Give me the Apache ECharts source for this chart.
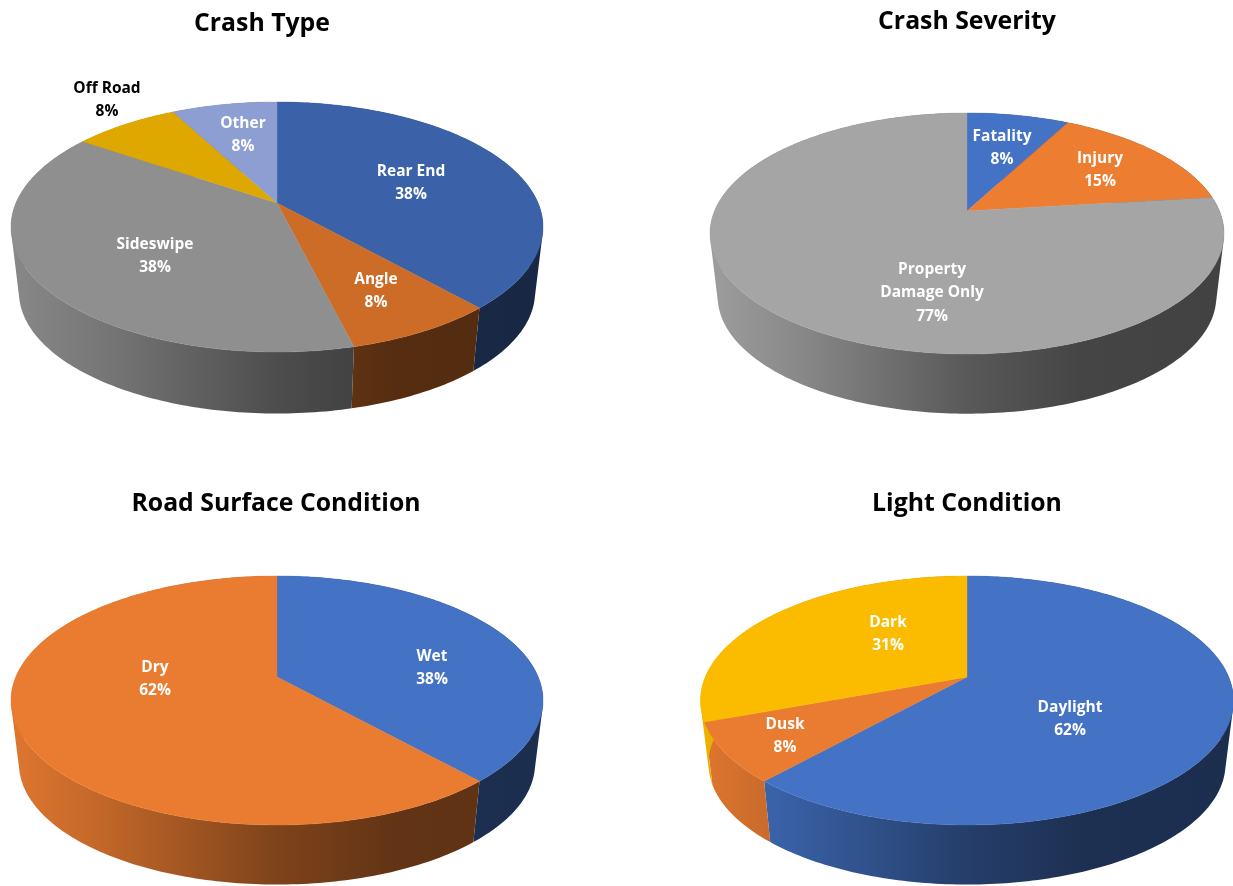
<!DOCTYPE html>
<html>
<head>
<meta charset="utf-8">
<style>html,body{margin:0;padding:0;background:#fff}#c{width:1233px;height:886px}</style>
<script src="https://cdn.jsdelivr.net/npm/echarts@6/dist/echarts.min.js"></script>
</head>
<body>
<div id="c"></div>
<script>
// ---- data (share of crashes, %) ----
const crashTypeNames = ['Rear End', 'Angle', 'Sideswipe', 'Off Road', 'Other'];
const crashTypeValues = [38.4, 7.7, 38.4, 7.7, 7.7];
const severityNames = ['Fatality', 'Injury', 'Property\nDamage Only'];
const severityValues = [7.7, 15.4, 76.9];
const surfaceNames = ['Wet', 'Dry'];
const surfaceValues = [38.4, 61.6];
const lightNames = ['Daylight', 'Dusk', 'Dark'];
const lightValues = [61.6, 7.7, 30.7];

// ---- layout and style ----
const FONT = '"Open Sans", "Noto Sans", sans-serif';
const pies = [
  { title: 'Crash Type', titleX: 262, titleY: 11, names: crashTypeNames, values: crashTypeValues,
    colors: ['#3b62a9', '#cd6c27', '#8f8f8f', '#dea800', '#8d9fd2'],
    cx: 277, cy: 203, rx: 266, up: 101, down: 149, depth: 66,
    labels: [[134, -21], [99, 87], [-122, 52], [-170, -104], [-34, -69]],
    labelColors: ['#fff', '#fff', '#fff', '#000', '#fff'] },
  { title: 'Crash Severity', titleX: 967, titleY: 9, names: severityNames, values: severityValues,
    colors: ['#4472c4', '#ed7d31', '#a5a5a5'],
    cx: 967, cy: 211, rx: 257, up: 98, down: 143, depth: 64,
    labels: [[35, -64], [133, -42], [-35, 81]],
    labelColors: ['#fff', '#fff', '#fff'] },
  { title: 'Road Surface Condition', titleX: 276, titleY: 491, names: surfaceNames, values: surfaceValues,
    colors: ['#4472c4', '#ea7c31'],
    cx: 277, cy: 677, rx: 266, up: 101, down: 148, depth: 64,
    labels: [[155, -10], [-122, 1]],
    labelColors: ['#fff', '#fff'] },
  { title: 'Light Condition', titleX: 967, titleY: 491, names: lightNames, values: lightValues,
    colors: ['#4472c4', '#ea7c31', '#fbbc00'],
    cx: 967, cy: 677, rx: 266.5, up: 101, down: 148, depth: 64,
    labels: [[103, 41], [-182, 58], [-79, -44]],
    labelColors: ['#fff', '#fff', '#fff'] }
];
const SIDE_SCALE = 0.97;
const SIDE_STOPS = [[0, 0.95], [0.17, 0.83], [0.5, 0.54], [0.72, 0.42], [1, 0.4]];

function shade(hex, f) {
  const n = parseInt(hex.slice(1), 16);
  const c = s => Math.round(((n >> s) & 255) * f);
  return 'rgb(' + c(16) + ',' + c(8) + ',' + c(0) + ')';
}
function projector(p) {
  const k = (p.down - p.up) / (p.down + p.up);
  const A = p.up * (1 + k);
  const B = p.rx * Math.sqrt(1 - k * k);
  return function (theta, s, dy) {
    const u = Math.sin(theta), v = -Math.cos(theta), w = 1 - k * v;
    return [p.cx + s * B * u / w, p.cy + dy + s * A * v / w];
  };
}
function slicePoints(p, i, s, dy) {
  const proj = projector(p);
  const sum = p.values.reduce((a, b) => a + b, 0);
  let acc = 0;
  for (let j = 0; j < i; j++) acc += p.values[j];
  const a0 = acc / sum * 2 * Math.PI, a1 = (acc + p.values[i]) / sum * 2 * Math.PI;
  const n = Math.max(2, Math.ceil((a1 - a0) / (Math.PI / 180)));
  const pts = [];
  for (let t = 0; t <= n; t++) pts.push(proj(a0 + (a1 - a0) * t / n, s, dy));
  return pts;
}
// one path made of same-winding quads, so the strip has no seams
function sweptPath(upper, lower) {
  let d = '';
  for (let t = 0; t + 1 < upper.length; t++) {
    let q = [upper[t], upper[t + 1], lower[t + 1], lower[t]];
    let area = 0;
    for (let m = 0; m < 4; m++) {
      const a = q[m], b = q[(m + 1) % 4];
      area += a[0] * b[1] - b[0] * a[1];
    }
    if (area < 0) q = q.reverse();
    d += 'M' + q.map(c => c[0].toFixed(2) + ' ' + c[1].toFixed(2)).join('L') + 'Z';
  }
  return d;
}

const series = [];
pies.forEach(function (p) {
  const data = p.values.map((v, i) => ({ name: p.names[i], value: v }));
  const sum = p.values.reduce((a, b) => a + b, 0);
  // rim (lower layer)
  series.push({
    type: 'custom', coordinateSystem: 'none', z: 1, silent: true, animation: false, data: data,
    renderItem: function (params) {
      const i = params.dataIndex;
      const upper = slicePoints(p, i, 1, 0);
      const lower = slicePoints(p, i, SIDE_SCALE, p.depth);
      const fill = {
        type: 'linear', global: true, x: p.cx - p.rx, y: 0, x2: p.cx + p.rx, y2: 0,
        colorStops: SIDE_STOPS.map(st => ({ offset: st[0], color: shade(p.colors[i], st[1]) }))
      };
      return { type: 'path', shape: { pathData: sweptPath(upper, lower) },
        style: { fill: fill, stroke: null } };
    }
  });
  // top face
  series.push({
    type: 'custom', coordinateSystem: 'none', z: 2, silent: true, animation: false, data: data,
    renderItem: function (params) {
      const i = params.dataIndex;
      const pts = [[p.cx, p.cy]].concat(slicePoints(p, i, 1, 0));
      return { type: 'polygon', shape: { points: pts },
        style: { fill: p.colors[i], stroke: p.colors[i], lineWidth: 0.4 } };
    }
  });
  // labels
  series.push({
    type: 'custom', coordinateSystem: 'none', z: 3, silent: true, animation: false, data: data,
    renderItem: function (params, api) {
      const i = params.dataIndex;
      const pct = Math.round(api.value(0) / sum * 100);
      return { type: 'text',
        x: p.cx + p.labels[i][0], y: p.cy + p.labels[i][1] + 1,
        style: { text: p.names[i] + '\n' + pct + '%', fill: p.labelColors[i],
          font: '700 15.5px ' + FONT, lineHeight: 23.5, align: 'center', verticalAlign: 'middle' } };
    }
  });
});

const chart = echarts.init(document.getElementById('c'), null, { renderer: 'canvas' });
chart.setOption({
  backgroundColor: '#ffffff',
  animation: false,
  title: pies.map(p => ({
    text: p.title, left: p.titleX, top: p.titleY, textAlign: 'center', padding: 0,
    textStyle: { fontFamily: FONT, fontWeight: 700, fontSize: 24.8, color: '#000' }
  })),
  series: series
});
</script>
</body>
</html>
